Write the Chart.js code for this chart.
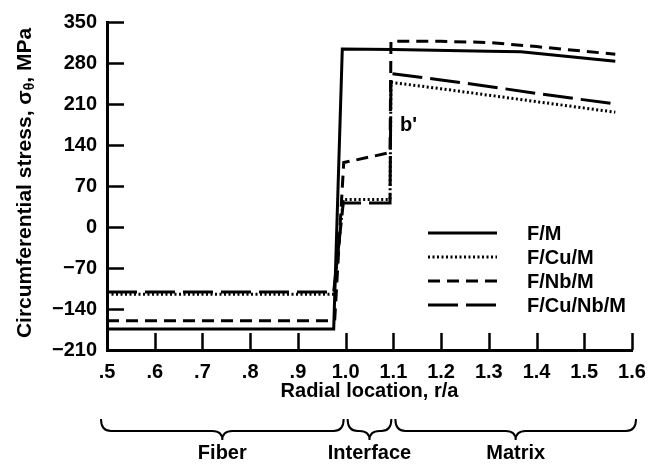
<!DOCTYPE html>
<html>
<head>
<meta charset="utf-8">
<script src="https://cdn.jsdelivr.net/npm/chart.js@4.4.0/dist/chart.umd.min.js"></script>
<style>
  html, body { margin: 0; padding: 0; background: #fff; }
  canvas { display: block; }
</style>
</head>
<body>
<canvas id="stressChart" width="663" height="465"></canvas>
<script>
// Axis ticks
const xTickValues = [0.5, 0.6, 0.7, 0.8, 0.9, 1.0, 1.1, 1.2, 1.3, 1.4, 1.5, 1.6];
const xTickLabels = ['.5', '.6', '.7', '.8', '.9', '1.0', '1.1', '1.2', '1.3', '1.4', '1.5', '1.6'];
const yTickValues = [-210, -140, -70, 0, 70, 140, 210, 280, 350];
const yTickLabels = ['\u2212210', '\u2212140', '\u221270', '0', '70', '140', '210', '280', '350'];

// Circumferential stress (MPa) against radial location r/a for each system
const fmR     = [0.5, 0.975, 0.993, 1.1, 1.3, 1.367, 1.565];
const fmS     = [-174, -174, 304, 303, 300, 299, 283];
const fCuMR   = [0.5, 0.975, 0.995, 1.093, 1.095, 1.2, 1.3, 1.4, 1.565];
const fCuMS   = [-115, -115, 47, 47, 247, 236, 225, 214, 196];
const fNbMR   = [0.5, 0.977, 0.996, 1.093, 1.095, 1.2, 1.3, 1.4, 1.565];
const fNbMS   = [-160, -160, 110, 127, 317, 317, 315, 308, 295];
const fCuNbMR = [0.5, 0.975, 0.995, 1.093, 1.095, 1.2, 1.3, 1.4, 1.565];
const fCuNbMS = [-111, -111, 41, 41, 262, 251, 240, 228, 210];

const seriesNames = ['F/M', 'F/Cu/M', 'F/Nb/M', 'F/Cu/Nb/M'];

// Regions along the radius
const regionNames  = ['Fiber', 'Interface', 'Matrix'];
const regionBounds = [[0.5, 1.0], [1.0, 1.1], [1.1, 1.6]];

const FONT = "'Liberation Sans', Arial, sans-serif";

function pts(rs, ss) { return rs.map((r, i) => ({ x: r, y: ss[i] })); }

const dashes = [[], [2, 2.5], [12, 7], [30, 8]];
const seriesData = [pts(fmR, fmS), pts(fCuMR, fCuMS), pts(fNbMR, fNbMS), pts(fCuNbMR, fCuNbMS)];

const datasets = seriesNames.map((name, i) => ({
  label: name,
  data: seriesData[i],
  borderColor: '#000',
  backgroundColor: '#000',
  borderWidth: 3,
  borderDash: dashes[i],
  borderCapStyle: 'butt',
  borderJoinStyle: 'miter',
  pointRadius: 0,
  tension: 0,
  fill: false
}));

// Inward tick marks, axis titles, legend, annotation and region braces
const decorations = {
  id: 'decorations',
  afterDraw(chart) {
    const { ctx, chartArea: a, scales: { x, y } } = chart;
    ctx.save();
    ctx.strokeStyle = '#000';
    ctx.fillStyle = '#000';
    ctx.lineCap = 'butt';

    // tick marks pointing into the plot
    ctx.lineWidth = 2.5;
    ctx.beginPath();
    yTickValues.forEach(v => {
      const py = Math.round(y.getPixelForValue(v)) + 0.5;
      ctx.moveTo(a.left, py);
      ctx.lineTo(a.left + 17, py);
    });
    xTickValues.forEach(v => {
      const px = Math.round(x.getPixelForValue(v)) + 0.5;
      ctx.moveTo(px, a.bottom);
      ctx.lineTo(px, a.bottom - 17);
    });
    ctx.stroke();

    // y-axis title with subscript theta
    ctx.save();
    ctx.translate(25, (a.top + a.bottom) / 2 - 3);
    ctx.rotate(-Math.PI / 2);
    const big = 'bold 21px ' + FONT, small = 'bold 14px ' + FONT;
    const parts = [['Circumferential stress, \u03c3', big, 0], ['\u03b8', small, 5], [', MPa', big, 0]];
    let total = 0;
    parts.forEach(p => { ctx.font = p[1]; total += ctx.measureText(p[0]).width; });
    let cx = -total / 2;
    ctx.textBaseline = 'middle';
    ctx.textAlign = 'left';
    parts.forEach(p => {
      ctx.font = p[1];
      ctx.fillText(p[0], cx, p[2]);
      cx += ctx.measureText(p[0]).width;
    });
    ctx.restore();

    // x-axis title
    ctx.font = 'bold 20px ' + FONT;
    ctx.textAlign = 'center';
    ctx.textBaseline = 'middle';
    ctx.fillText('Radial location, r/a', (a.left + a.right) / 2, 391);

    // legend
    chart.data.datasets.forEach((ds, i) => {
      const ly = 233 + i * 24;
      ctx.lineWidth = 3;
      ctx.setLineDash(ds.borderDash);
      ctx.beginPath();
      ctx.moveTo(428, ly);
      ctx.lineTo(497, ly);
      ctx.stroke();
      ctx.setLineDash([]);
      ctx.textAlign = 'left';
      ctx.fillText(ds.label, 527, ly + 1);
    });

    // annotation
    ctx.font = 'bold 20px ' + FONT;
    ctx.textAlign = 'left';
    ctx.textBaseline = 'alphabetic';
    ctx.fillText("b'", 400, 131);

    // braces marking the regions
    const yTop = 419, yMid = 431, yTip = 440, r = 10;
    ctx.lineWidth = 2;
    regionBounds.forEach((b, i) => {
      let x1 = x.getPixelForValue(b[0]) + 2;
      let x2 = x.getPixelForValue(b[1]) - 2;
      if (i === 0) x1 -= 8;
      if (i === regionBounds.length - 1) x2 += 6;
      const xm = (x1 + x2) / 2;
      ctx.beginPath();
      ctx.moveTo(x1, yTop);
      ctx.quadraticCurveTo(x1, yMid, x1 + r, yMid);
      ctx.lineTo(xm - r, yMid);
      ctx.quadraticCurveTo(xm, yMid, xm, yTip);
      ctx.quadraticCurveTo(xm, yMid, xm + r, yMid);
      ctx.lineTo(x2 - r, yMid);
      ctx.quadraticCurveTo(x2, yMid, x2, yTop);
      ctx.stroke();
      ctx.font = 'bold 20px ' + FONT;
      ctx.textAlign = 'center';
      ctx.textBaseline = 'middle';
      ctx.fillText(regionNames[i], xm, 453);
    });
    ctx.restore();
  }
};

new Chart(document.getElementById('stressChart'), {
  type: 'line',
  data: { datasets },
  options: {
    responsive: false,
    animation: false,
    layout: { padding: { top: 9, right: 31, bottom: 0, left: 0 } },
    plugins: { legend: { display: false }, tooltip: { enabled: false } },
    scales: {
      x: {
        type: 'linear',
        min: 0.5,
        max: 1.6,
        afterBuildTicks(s) { s.ticks = xTickValues.map(v => ({ value: v })); },
        afterFit(s) { s.height = 115; },
        grid: { display: false, drawTicks: false, tickLength: 0 },
        border: { display: true, color: '#000', width: 3 },
        ticks: {
          autoSkip: false,
          maxRotation: 0,
          padding: 10,
          color: '#000',
          font: { family: FONT, size: 20, weight: 'bold' },
          callback: (v, i) => xTickLabels[i]
        }
      },
      y: {
        type: 'linear',
        min: -210,
        max: 350,
        afterBuildTicks(s) { s.ticks = yTickValues.map(v => ({ value: v })); },
        afterFit(s) { s.width = 107; },
        grid: { display: false, drawTicks: false, tickLength: 0 },
        border: { display: true, color: '#000', width: 3 },
        ticks: {
          padding: 10,
          color: '#000',
          font: { family: FONT, size: 20, weight: 'bold' },
          callback: (v, i) => yTickLabels[i]
        }
      }
    }
  },
  plugins: [decorations]
});
</script>
</body>
</html>
